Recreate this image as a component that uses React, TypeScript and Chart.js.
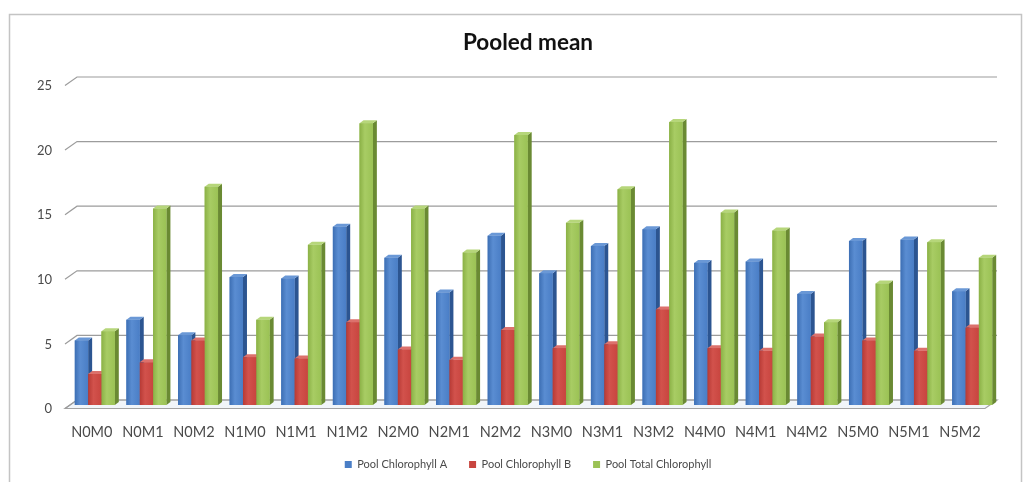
import { useEffect, useRef } from "react";
import { Chart, registerables } from "chart.js";

Chart.register(...registerables);

const categories = [
  "N0M0", "N0M1", "N0M2", "N1M0", "N1M1", "N1M2",
  "N2M0", "N2M1", "N2M2", "N3M0", "N3M1", "N3M2",
  "N4M0", "N4M1", "N4M2", "N5M0", "N5M1", "N5M2",
];
const chlorophyllA = [5.0, 6.6, 5.4, 9.9, 9.8, 13.8, 11.4, 8.7, 13.1, 10.2, 12.3, 13.6, 11.0, 11.1, 8.6, 12.7, 12.8, 8.8];
const chlorophyllB = [2.4, 3.3, 5.0, 3.7, 3.6, 6.4, 4.3, 3.5, 5.8, 4.4, 4.7, 7.4, 4.4, 4.2, 5.3, 5.0, 4.2, 6.0];
const totalChlorophyll = [5.7, 15.2, 16.9, 6.6, 12.4, 21.8, 15.2, 11.8, 20.9, 14.1, 16.7, 21.9, 14.9, 13.5, 6.4, 9.4, 12.6, 11.4];
const seriesNames = ["Pool Chlorophyll A", "Pool Chlorophyll B", "Pool Total Chlorophyll"];
const yTicks = [0, 5, 10, 15, 20, 25];

// category labels sit on the front edge of the floor, slightly narrower than the bar plane
const LABEL_MIN = -0.4466;
const LABEL_MAX = 17.744;

const FONT = "Lato, 'Open Sans', sans-serif";
const TEXT = "#4a4a4a";

const palette = [
  { front: "#4a7ec6", dark: "#3d6fb4", light: "#5a8dd2", side: "#2c5591", top: "#6a98d6" },
  { front: "#c8453f", dark: "#b73a35", light: "#d2524c", side: "#8d2d2a", top: "#dc716c" },
  { front: "#9bc255", dark: "#8bb146", light: "#a8cc64", side: "#6a8a33", top: "#b6d67a" },
];

// extrusion of each column and of the back wall relative to the bar plane
const BAR_DX = 4;
const BAR_DY = 3;
const WALL_BACK_DX = 8;
const WALL_BACK_DY = 5;
const WALL_FRONT_DX = 4;
const WALL_FRONT_DY = 3.5;

const depthPlugin = {
  id: "depth3d",
  beforeDraw(chart: any) {
    const ctx = chart.ctx;
    ctx.save();
    ctx.fillStyle = "#ffffff";
    ctx.fillRect(0, 0, chart.width, chart.height);
    ctx.strokeStyle = "#c4c4c4";
    ctx.lineWidth = 1.5;
    ctx.strokeRect(9.5, 14.5, 1012, 500);
    ctx.restore();
  },
  beforeDatasetsDraw(chart: any) {
    const ctx = chart.ctx;
    const y = chart.scales.y;
    const { left, right } = chart.chartArea;
    const backL = left + WALL_BACK_DX;
    const backR = right - 1;
    const frontL = left - WALL_FRONT_DX;
    const frontR = backR - (WALL_BACK_DX + WALL_FRONT_DX);
    ctx.save();
    // floor
    const p0 = y.getPixelForValue(0);
    ctx.beginPath();
    ctx.moveTo(frontL, p0 + WALL_FRONT_DY);
    ctx.lineTo(backL, p0 - WALL_BACK_DY);
    ctx.lineTo(backR, p0 - WALL_BACK_DY);
    ctx.lineTo(frontR, p0 + WALL_FRONT_DY);
    ctx.closePath();
    ctx.fillStyle = "#f1f5f9";
    ctx.fill();
    ctx.strokeStyle = "#a3a3a3";
    ctx.lineWidth = 1.2;
    ctx.stroke();
    // back-wall gridlines with their slanted left edges
    ctx.strokeStyle = "#9c9c9c";
    ctx.lineWidth = 1.2;
    yTicks.forEach((v) => {
      const py = y.getPixelForValue(v);
      ctx.beginPath();
      ctx.moveTo(frontL, py + WALL_FRONT_DY);
      ctx.lineTo(backL, py - WALL_BACK_DY);
      ctx.lineTo(backR, py - WALL_BACK_DY);
      ctx.stroke();
    });
    ctx.restore();
  },
  afterDatasetsDraw(chart: any) {
    const ctx = chart.ctx;
    const metas = [0, 1, 2].map((i) => chart.getDatasetMeta(i));
    ctx.save();
    for (let i = 0; i < categories.length; i++) {
      metas.forEach((meta: any, d: number) => {
        const el = meta.data[i];
        if (!el) return;
        const { x, y, base, width } = el.getProps(["x", "y", "base", "width"], true);
        const l = x - width / 2;
        const r = x + width / 2;
        const c = palette[d];
        // side face
        ctx.fillStyle = c.side;
        ctx.beginPath();
        ctx.moveTo(r, y);
        ctx.lineTo(r + BAR_DX, y - BAR_DY);
        ctx.lineTo(r + BAR_DX, base - BAR_DY);
        ctx.lineTo(r, base);
        ctx.closePath();
        ctx.fill();
        // top face
        ctx.fillStyle = c.top;
        ctx.beginPath();
        ctx.moveTo(l, y);
        ctx.lineTo(l + BAR_DX, y - BAR_DY);
        ctx.lineTo(r + BAR_DX, y - BAR_DY);
        ctx.lineTo(r, y);
        ctx.closePath();
        ctx.fill();
        // front face
        const g = ctx.createLinearGradient(l, 0, r, 0);
        g.addColorStop(0, c.dark);
        g.addColorStop(0.4, c.light);
        g.addColorStop(1, c.front);
        ctx.fillStyle = g;
        ctx.fillRect(l, y, r - l, base - y);
      });
    }
    ctx.restore();
  },
};

export default function App() {
  const ref = useRef<HTMLCanvasElement>(null);

  useEffect(() => {
    const canvas = ref.current;
    if (!canvas) return;
    const chart = new Chart(canvas, {
      type: "bar",
      data: {
        labels: categories,
        datasets: [
          { label: seriesNames[0], data: chlorophyllA, backgroundColor: palette[0].front },
          { label: seriesNames[1], data: chlorophyllB, backgroundColor: palette[1].front },
          { label: seriesNames[2], data: totalChlorophyll, backgroundColor: palette[2].front },
        ],
      },
      options: {
        responsive: false,
        animation: false,
        layout: { padding: { left: 33, right: 11, top: 0, bottom: 2 } },
        datasets: { bar: { categoryPercentage: 0.775, barPercentage: 1 } },
        plugins: {
          title: {
            display: true,
            text: "Pooled mean",
            color: "#111111",
            font: { family: FONT, size: 22.5, weight: "bold" },
            padding: { top: 29, bottom: 26 },
          },
          legend: {
            position: "bottom",
            labels: {
              boxWidth: 7,
              boxHeight: 7,
              padding: 22,
              color: TEXT,
              font: { family: FONT, size: 11 },
            },
          },
          tooltip: { enabled: false },
        },
        scales: {
          x: { type: "category", display: false, grid: { display: false } },
          xl: {
            type: "linear",
            position: "bottom",
            offset: false,
            bounds: "data",
            min: LABEL_MIN,
            max: LABEL_MAX,
            grid: { display: false, drawTicks: false, offset: false },
            border: { display: false },
            afterBuildTicks: (s: any) => {
              s.ticks = categories.map((_, i) => ({ value: i }));
              s.min = LABEL_MIN;
              s.max = LABEL_MAX;
            },
            afterFit: (s: any) => {
              s.height = 32;
            },
            ticks: {
              autoSkip: false,
              maxRotation: 0,
              padding: 19,
              color: TEXT,
              font: { family: FONT, size: 14.5 },
              callback: (v: any) => categories[v] ?? "",
            },
          },
          y: {
            position: "left",
            min: 0,
            max: 25,
            grid: { display: false, drawTicks: false },
            border: { display: false },
            afterBuildTicks: (s: any) => {
              s.ticks = yTicks.map((v) => ({ value: v }));
            },
            afterFit: (s: any) => {
              s.width = 36;
            },
            ticks: { padding: 17, labelOffset: 4, color: TEXT, font: { family: FONT, size: 13 } },
          },
          yr: {
            position: "right",
            display: true,
            grid: { display: false, drawTicks: false },
            border: { display: false },
            ticks: { display: false },
            afterFit: (s: any) => {
              s.width = 25;
            },
          },
        },
      } as any,
      plugins: [depthPlugin],
    });
    return () => chart.destroy();
  }, []);

  return (
    <div style={{ position: "fixed", left: 0, top: 0, width: 1034, height: 482, background: "#fff" }}>
      <canvas ref={ref} width={1034} height={482} style={{ display: "block" }} />
    </div>
  );
}
